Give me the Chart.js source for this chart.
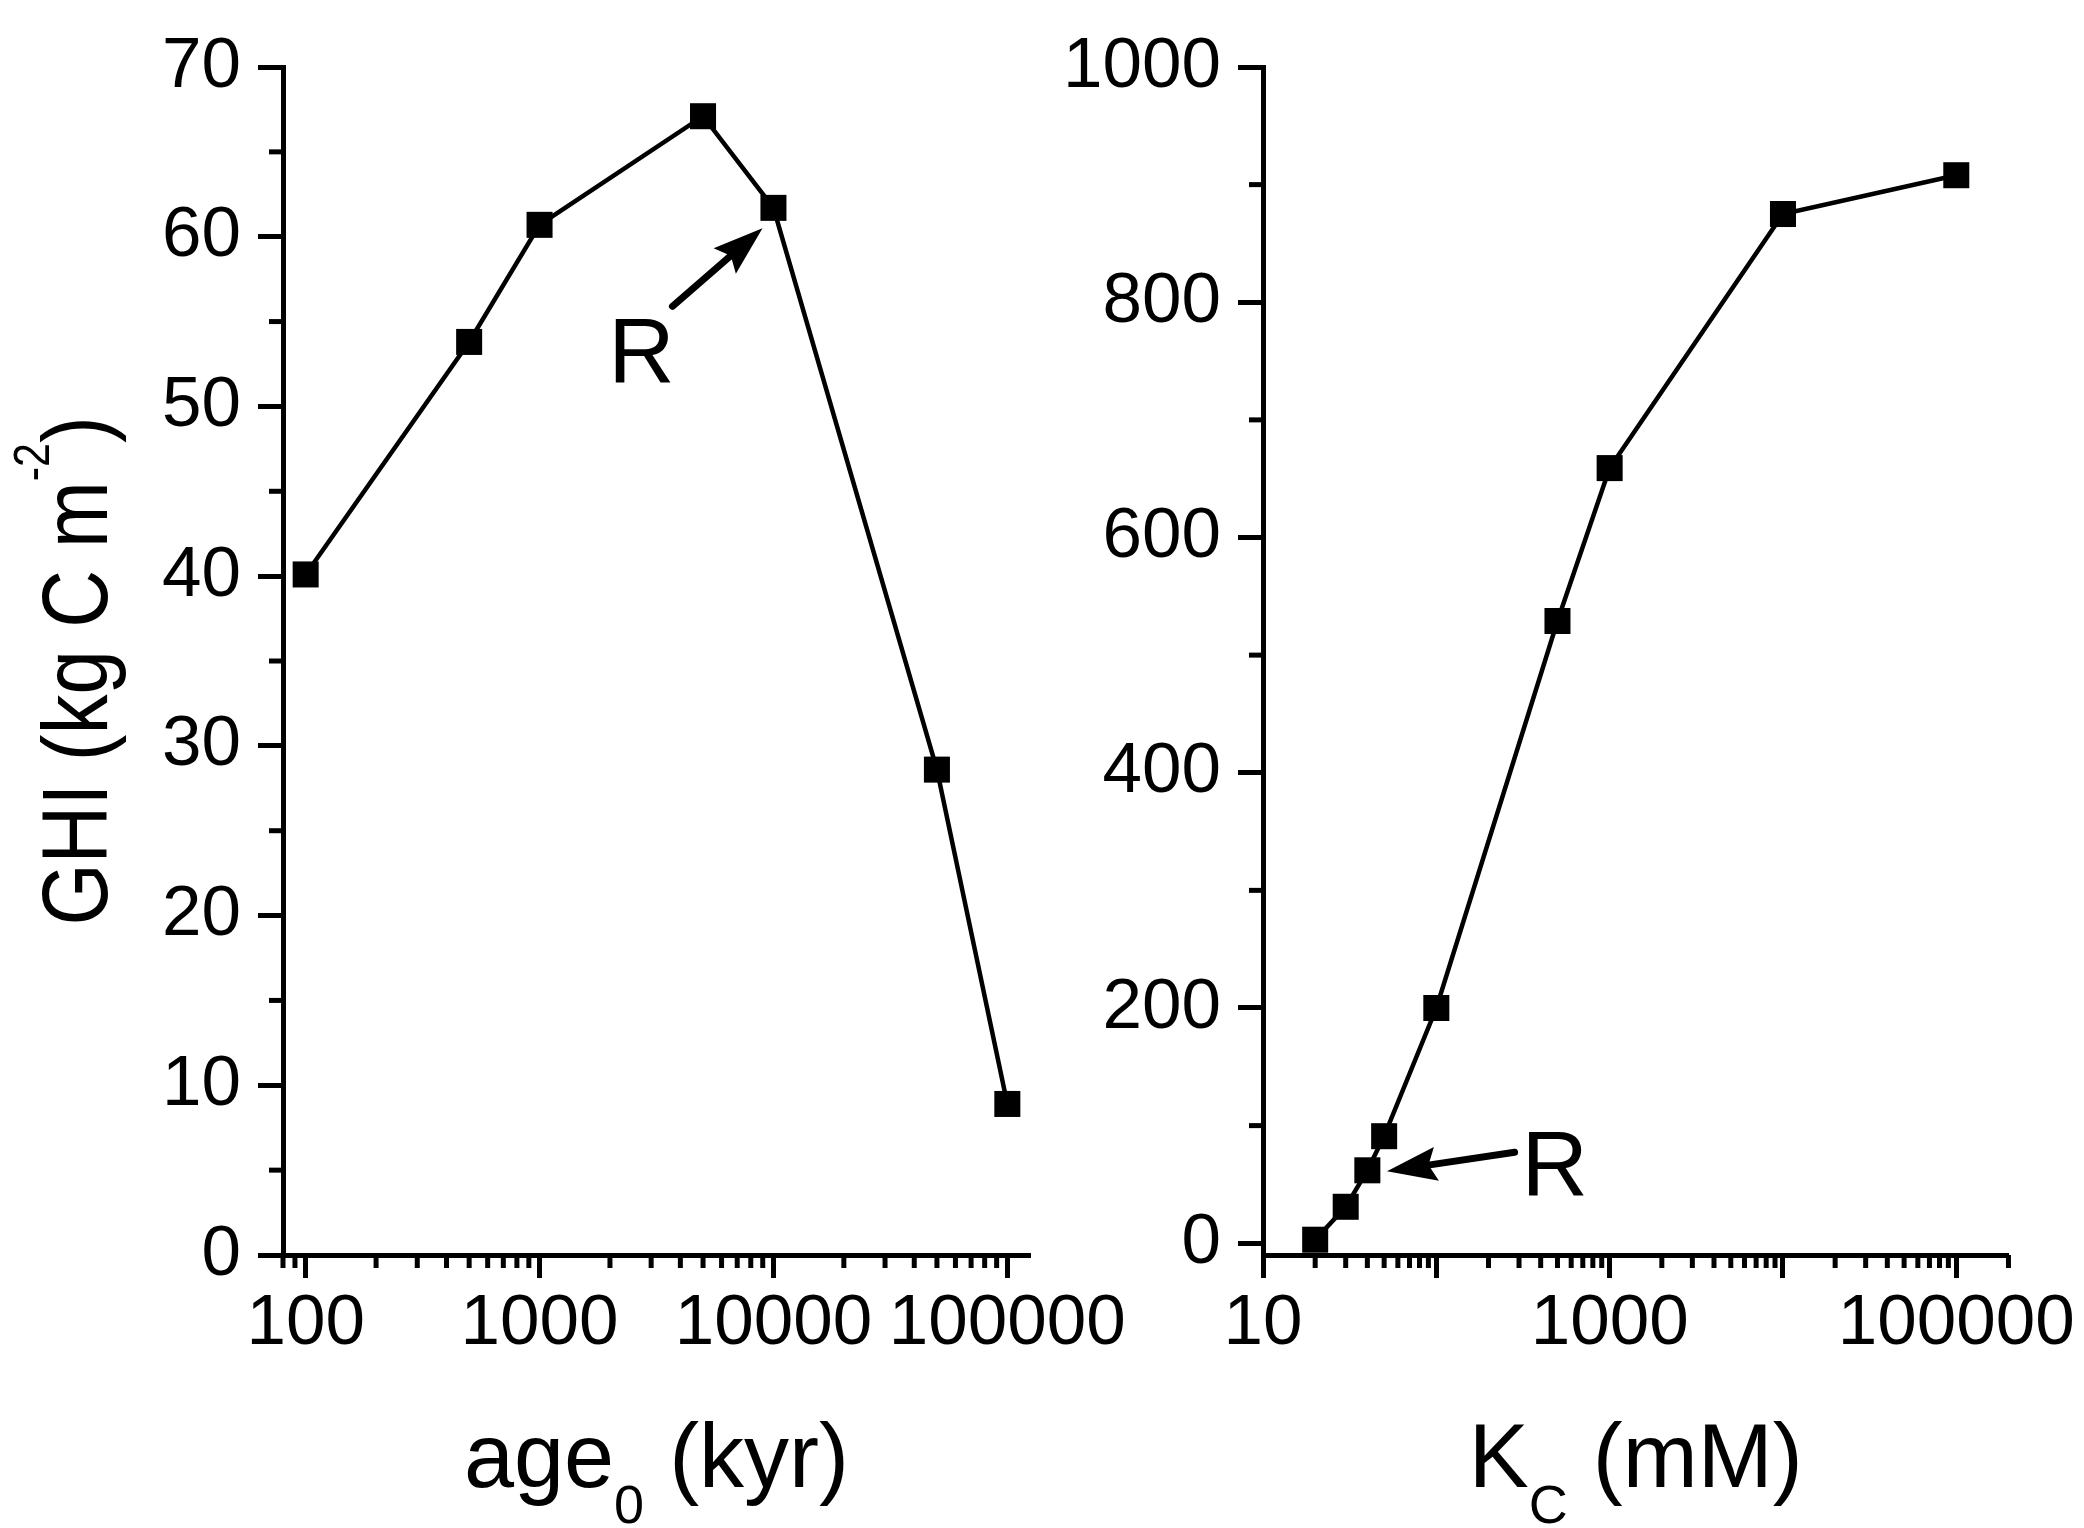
<!DOCTYPE html>
<html>
<head>
<meta charset="utf-8">
<script src="https://cdn.jsdelivr.net/npm/chart.js@4.4.1/dist/chart.umd.min.js"></script>
<style>
  html, body { margin: 0; padding: 0; background: #ffffff; }
  #wrap { position: relative; width: 2084px; height: 1528px; background: #ffffff; }
  canvas { position: absolute; left: 0; top: 0; }
</style>
</head>
<body>
<div id="wrap">
  <canvas id="c1" width="2084" height="1528"></canvas>
  <canvas id="c2" width="2084" height="1528"></canvas>
</div>
<script>
// ---------------- data ----------------
// Left panel: GHI vs age0 (kyr)
const ageValues = [100, 500, 1000, 5000, 10000, 50000, 100000];
const ghiByAge  = [40.1, 53.8, 60.7, 67.1, 61.7, 28.6, 8.9];
const leftXTickValues = [100, 1000, 10000, 100000];
const leftXTickLabels = ['100', '1000', '10000', '100000'];
const leftYTickValues = [0, 10, 20, 30, 40, 50, 60, 70];
const leftYTickLabels = ['0', '10', '20', '30', '40', '50', '60', '70'];

// Right panel: GHI vs K_C (mM)
const kcValues = [20, 30, 40, 50, 100, 500, 1000, 10000, 100000];
const ghiByKc  = [3, 31, 62, 91, 200, 529, 659, 875, 908];
const rightXTickValues = [10, 100, 1000, 10000, 100000];
const rightXTickLabels = ['10', '', '1000', '', '100000'];
const rightYTickValues = [0, 200, 400, 600, 800, 1000];
const rightYTickLabels = ['0', '200', '400', '600', '800', '1000'];

// Reference-case annotations (data coordinates)
const leftArrow  = { from: [3700, 55.9], to: [8980, 60.5] };
const leftMark   = { text: 'R', at: [2730, 51.4] };
const rightArrow = { from: [283, 77.4], to: [51.9, 61.2] };
const rightMark  = { text: 'R', at: [482, 40] };

// ---------------- helpers ----------------
const FONT = '"Liberation Sans", Arial, Helvetica, sans-serif';

function logMinors(min, max, majors) {
  const out = [];
  for (let e = -1; e <= 7; e++) {
    for (let m = 1; m <= 9; m++) {
      const v = m * Math.pow(10, e);
      if (v >= min * 0.9999 && v <= max * 1.0001 && !majors.some(t => Math.abs(t - v) / v < 1e-9)) out.push(v);
    }
  }
  return out;
}
function linMinors(ticks) {
  const out = [];
  for (let i = 0; i < ticks.length - 1; i++) out.push((ticks[i] + ticks[i + 1]) / 2);
  return out;
}

function drawRich(ctx, segs, x, y) {
  let total = 0;
  segs.forEach(s => { ctx.font = s.size + 'px ' + FONT; s.w = ctx.measureText(s.t).width; total += s.w; });
  let cx = x - total / 2;
  ctx.textAlign = 'left';
  ctx.textBaseline = 'alphabetic';
  segs.forEach(s => {
    ctx.font = s.size + 'px ' + FONT;
    ctx.fillText(s.t, cx, y + (s.dy || 0));
    cx += s.w;
  });
}

function drawArrow(ctx, x1, y1, x2, y2) {
  const ang = Math.atan2(y2 - y1, x2 - x1);
  const headLen = 50, headHalf = 17;
  const bx = x2 - headLen * Math.cos(ang), by = y2 - headLen * Math.sin(ang);
  ctx.save();
  ctx.strokeStyle = '#000';
  ctx.fillStyle = '#000';
  ctx.lineWidth = 7;
  ctx.lineCap = 'round';
  ctx.beginPath();
  ctx.moveTo(x1, y1);
  ctx.lineTo(bx + 10 * Math.cos(ang), by + 10 * Math.sin(ang));
  ctx.stroke();
  const nx = -Math.sin(ang), ny = Math.cos(ang);
  const nb = 8; // notch depth
  ctx.beginPath();
  ctx.moveTo(x2, y2);
  ctx.lineTo(bx + headHalf * nx, by + headHalf * ny);
  ctx.lineTo(bx + nb * Math.cos(ang), by + nb * Math.sin(ang));
  ctx.lineTo(bx - headHalf * nx, by - headHalf * ny);
  ctx.closePath();
  ctx.fill();
  ctx.restore();
}

function panelPlugin(cfg) {
  return {
    id: 'panelDecor' + cfg.key,
    afterDraw(chart) {
      const ctx = chart.ctx;
      const xs = chart.scales.x, ys = chart.scales.y;
      const a = chart.chartArea;
      ctx.save();
      ctx.strokeStyle = '#000';
      ctx.lineWidth = 5;
      ctx.lineCap = 'butt';
      // minor ticks
      cfg.minorX.forEach(v => {
        const px = xs.getPixelForValue(v);
        ctx.beginPath(); ctx.moveTo(px, a.bottom); ctx.lineTo(px, a.bottom + 13); ctx.stroke();
      });
      cfg.minorY.forEach(v => {
        const py = ys.getPixelForValue(v);
        ctx.beginPath(); ctx.moveTo(a.left, py); ctx.lineTo(a.left - 14, py); ctx.stroke();
      });
      ctx.fillStyle = '#000';
      // x title
      drawRich(ctx, cfg.xTitle, (a.left + a.right) / 2, a.bottom + 232);
      // y title (rotated)
      if (cfg.yTitle) {
        ctx.save();
        ctx.translate(a.left - 176, (a.top + a.bottom) / 2 + 10);
        ctx.rotate(-Math.PI / 2);
        ctx.scale(0.86, 1);
        drawRich(ctx, cfg.yTitle, 0, 0);
        ctx.restore();
      }
      // annotation arrow + label
      const ar = cfg.arrow;
      drawArrow(ctx,
        xs.getPixelForValue(ar.from[0]), ys.getPixelForValue(ar.from[1]),
        xs.getPixelForValue(ar.to[0]), ys.getPixelForValue(ar.to[1]));
      ctx.font = '92px ' + FONT;
      ctx.textAlign = 'center';
      ctx.textBaseline = 'alphabetic';
      ctx.fillText(cfg.mark.text, xs.getPixelForValue(cfg.mark.at[0]), ys.getPixelForValue(cfg.mark.at[1]));
      ctx.restore();
    }
  };
}

function makePanel(canvasId, p) {
  const tickFont = { family: FONT, size: 71 };
  return new Chart(document.getElementById(canvasId), {
    type: 'line',
    data: {
      datasets: [{
        data: p.xs.map((x, i) => ({ x: x, y: p.ys[i] })),
        borderColor: '#000',
        borderWidth: 4.5,
        pointStyle: 'rect',
        pointRadius: 18.4,
        pointHoverRadius: 18.4,
        pointBackgroundColor: '#000',
        pointBorderWidth: 0,
        tension: 0,
        fill: false,
        clip: false
      }]
    },
    options: {
      responsive: false,
      animation: false,
      devicePixelRatio: 1,
      events: [],
      layout: { padding: p.padding },
      plugins: { legend: { display: false }, tooltip: { enabled: false }, title: { display: false } },
      scales: {
        x: {
          type: 'logarithmic',
          min: p.xMin, max: p.xMax,
          afterFit: s => { s.height = 273; },
          afterBuildTicks: s => { s.ticks = p.xTicks.map(v => ({ value: v })); },
          ticks: {
            callback: (v, i) => p.xLabels[i],
            font: tickFont, color: '#000',
            maxRotation: 0, minRotation: 0, autoSkip: false, padding: 4
          },
          grid: { display: true, drawOnChartArea: false, drawTicks: true, tickLength: 23, tickWidth: 5, tickColor: '#000', color: '#000' },
          border: { display: true, width: 5, color: '#000' }
        },
        y: {
          type: 'linear',
          min: p.yMin, max: p.yMax,
          afterFit: s => { s.width = 283; },
          afterBuildTicks: s => { s.ticks = p.yTicks.map(v => ({ value: v })); },
          ticks: {
            callback: (v, i) => p.yLabels[i],
            font: tickFont, color: '#000', padding: 17, autoSkip: false
          },
          grid: { display: true, drawOnChartArea: false, drawTicks: true, tickLength: 25, tickWidth: 5, tickColor: '#000', color: '#000' },
          border: { display: true, width: 5, color: '#000' }
        }
      }
    },
    plugins: [panelPlugin(p.decor)]
  });
}

const TITLE = 90, SUB = 54;

makePanel('c1', {
  xs: ageValues, ys: ghiByAge,
  xMin: 80, xMax: 125000, yMin: 0, yMax: 70,
  xTicks: leftXTickValues, xLabels: leftXTickLabels,
  yTicks: leftYTickValues, yLabels: leftYTickLabels,
  padding: { left: 0, top: 67, right: 1054, bottom: 0 },
  decor: {
    key: 'L',
    minorX: logMinors(80, 125000, leftXTickValues),
    minorY: linMinors(leftYTickValues),
    xTitle: [{ t: 'age', size: TITLE }, { t: '0', size: SUB, dy: 36 }, { t: ' (kyr)', size: TITLE }],
    yTitle: [{ t: 'GHI (kg C m', size: 93 }, { t: '-2', size: 50, dy: -58 }, { t: ')', size: 93 }],
    arrow: leftArrow, mark: leftMark
  }
});

makePanel('c2', {
  xs: kcValues, ys: ghiByKc,
  xMin: 10, xMax: 200000, yMin: -10, yMax: 1000,
  xTicks: rightXTickValues, xLabels: rightXTickLabels,
  yTicks: rightYTickValues, yLabels: rightYTickLabels,
  padding: { left: 980, top: 67, right: 75, bottom: 0 },
  decor: {
    key: 'R',
    minorX: logMinors(10, 200000, rightXTickValues),
    minorY: linMinors(rightYTickValues),
    xTitle: [{ t: 'K', size: TITLE }, { t: 'C', size: SUB, dy: 36 }, { t: ' (mM)', size: TITLE }],
    yTitle: null,
    arrow: rightArrow, mark: rightMark
  }
});
</script>
</body>
</html>
